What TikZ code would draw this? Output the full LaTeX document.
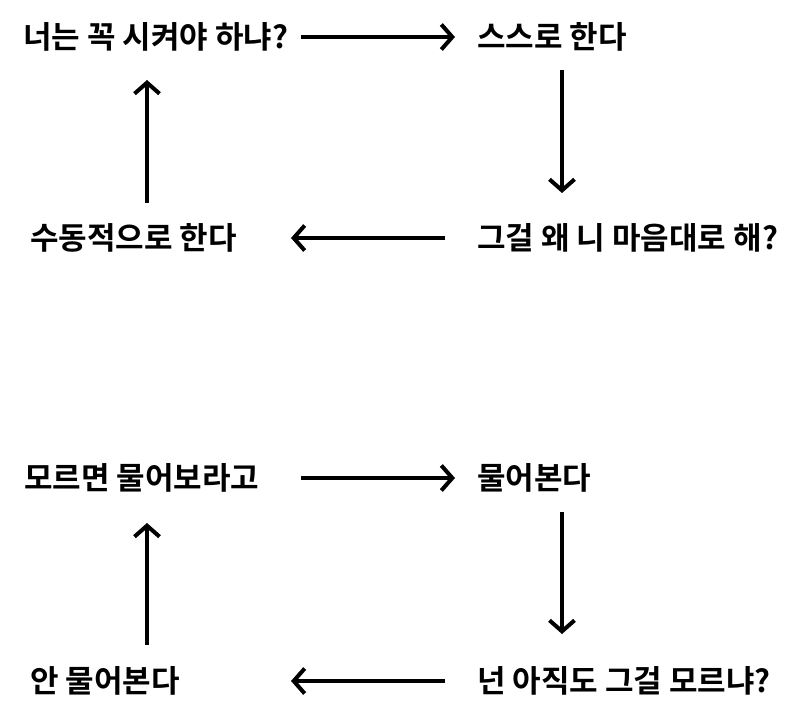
\documentclass[tikz,border=0pt]{standalone}
\usepackage{fontspec}
\setmainfont{Noto Sans CJK KR}[BoldFont={* Bold}]
\usetikzlibrary{arrows.meta}
\begin{document}
\begin{tikzpicture}[x=1pt,y=-1pt,
  lbl/.style={anchor=west,inner sep=0pt,font=\fontsize{31}{36}\selectfont\bfseries},
  arr/.style={line width=4pt,-{Straight Barb[length=11pt,width=25pt,line width=4pt]}}]
\useasboundingbox (0,0) rectangle (800,717);
% top cycle
\node[lbl] (t1) at (23,37) {너는 꼭 시켜야 하냐?};
\node[lbl] (t2) at (477,37) {스스로 한다};
\node[lbl] (t3) at (477,238) {그걸 왜 니 마음대로 해?};
\node[lbl] (t4) at (30,238) {수동적으로 한다};
\coordinate (a1s) at (301,37); \coordinate (a1e) at (455,37);
\coordinate (a2s) at (562,70); \coordinate (a2e) at (562,193);
\coordinate (a3s) at (445,238); \coordinate (a3e) at (291,238);
\coordinate (a4s) at (147,203); \coordinate (a4e) at (147,80);
\draw[arr] (a1s) -- (a1e);
\draw[arr] (a2s) -- (a2e);
\draw[arr] (a3s) -- (a3e);
\draw[arr] (a4s) -- (a4e);
% bottom cycle
\node[lbl] (b1) at (24,478) {모르면 물어보라고};
\node[lbl] (b2) at (477,478) {물어본다};
\node[lbl] (b3) at (477,681) {넌 아직도 그걸 모르냐?};
\node[lbl] (b4) at (30,681) {안 물어본다};
\coordinate (c1s) at (301,478); \coordinate (c1e) at (455,478);
\coordinate (c2s) at (562,512); \coordinate (c2e) at (562,634);
\coordinate (c3s) at (445,681); \coordinate (c3e) at (291,681);
\coordinate (c4s) at (147,645); \coordinate (c4e) at (147,523);
\draw[arr] (c1s) -- (c1e);
\draw[arr] (c2s) -- (c2e);
\draw[arr] (c3s) -- (c3e);
\draw[arr] (c4s) -- (c4e);
\end{tikzpicture}
\end{document}
